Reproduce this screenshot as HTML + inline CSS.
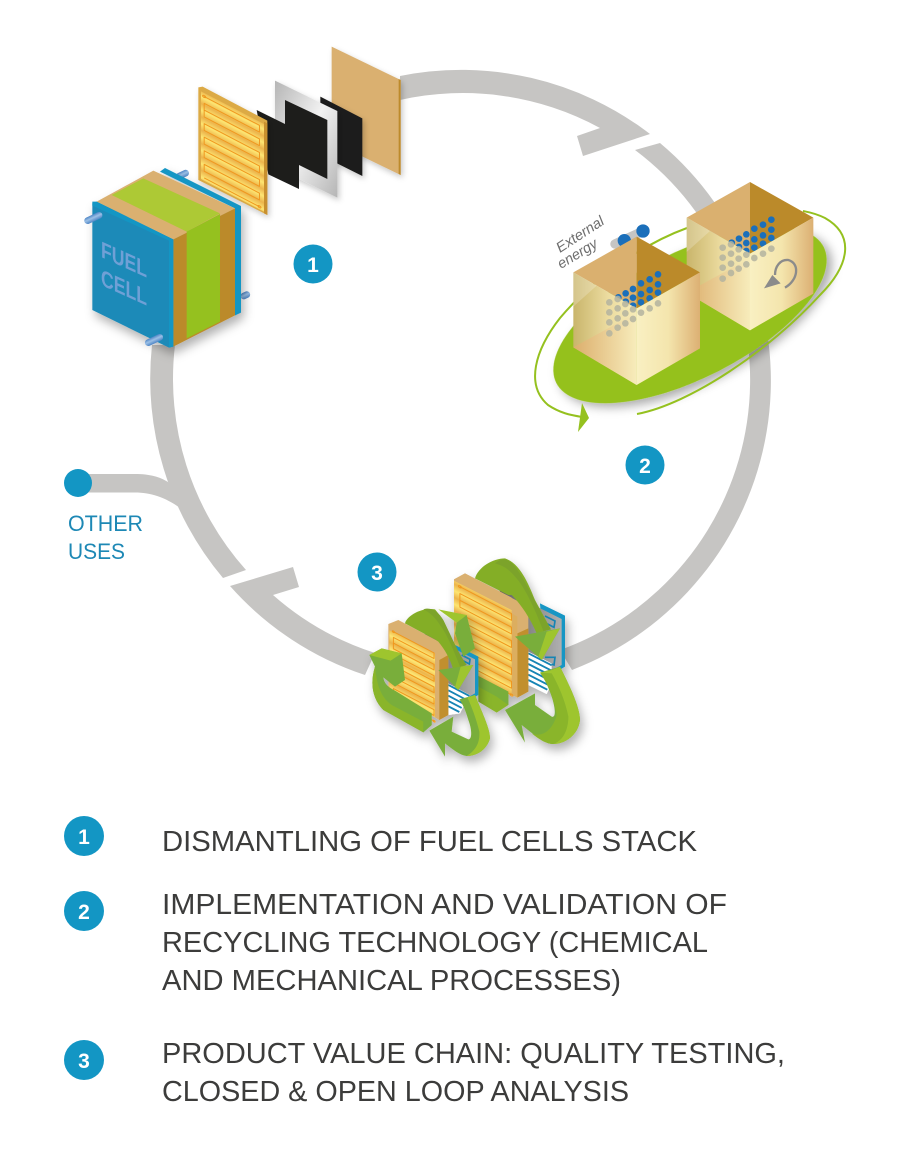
<!DOCTYPE html>
<html lang="en">
<head>
<meta charset="utf-8">
<title>Fuel cell recycling cycle</title>
<style>
html,body{margin:0;padding:0;background:#fff;width:897px;height:1176px;overflow:hidden}
svg{display:block}
text{font-family:"Liberation Sans",sans-serif}
.t{font-size:28.5px;fill:#3c3c3b}
.n{font-size:21px;font-weight:bold;fill:#fff;text-anchor:middle}
.o{font-size:22px;fill:#1d88b5}
</style>
</head>
<body>
<svg width="897" height="1176" viewBox="0 0 897 1176" xmlns="http://www.w3.org/2000/svg">
<defs>
<filter id="sh" x="-30%" y="-30%" width="160%" height="170%"><feDropShadow dx="3" dy="6" stdDeviation="5" flood-color="#000" flood-opacity=".33"/></filter>
<filter id="shz" x="-30%" y="-30%" width="160%" height="170%"><feDropShadow dx="9" dy="18" stdDeviation="15" flood-color="#000" flood-opacity=".3"/></filter>
<filter id="sh2z" x="-30%" y="-30%" width="160%" height="170%"><feDropShadow dx="6" dy="9" stdDeviation="9" flood-color="#000" flood-opacity=".22"/></filter>
<linearGradient id="gold" gradientUnits="userSpaceOnUse" x1="0" y1="0" x2="-16.400" y2="31.500" spreadMethod="repeat"><stop offset="0" stop-color="#ecb44c"/><stop offset=".5" stop-color="#fde572"/><stop offset="1" stop-color="#ecb44c"/></linearGradient>
<linearGradient id="fUp" x1="0" y1="0" x2="1" y2="0"><stop offset="0" stop-color="#c9b56b"/><stop offset=".55" stop-color="#ecdca0"/><stop offset="1" stop-color="#f7ecb8"/></linearGradient>
<linearGradient id="fLow" x1="0" y1="0" x2="1" y2="0"><stop offset="0" stop-color="#dcae6c"/><stop offset="1" stop-color="#f7ecbb"/></linearGradient>
<linearGradient id="fR" x1="0" y1="0" x2="1" y2="0"><stop offset="0" stop-color="#f9f0c2"/><stop offset=".5" stop-color="#f4e5ad"/><stop offset="1" stop-color="#dcb073"/></linearGradient>
<linearGradient id="frame" x1="0" y1="0" x2="1" y2="1"><stop offset="0" stop-color="#b5b5b5"/><stop offset=".5" stop-color="#f2f2f2"/><stop offset="1" stop-color="#b5b5b5"/></linearGradient>
<linearGradient id="gp" x1="0" y1="0" x2="1" y2="0"><stop offset="0" stop-color="#5f5f5f"/><stop offset="1" stop-color="#b0b0b0"/></linearGradient>
<linearGradient id="pin" x1="0" y1="0" x2="0" y2="1"><stop offset="0" stop-color="#4f86c6"/><stop offset=".45" stop-color="#9cc0e6"/><stop offset="1" stop-color="#4f86c6"/></linearGradient>
<g id="box">
<polygon points="160,457 350,350 350,565" fill="#dab06f"/>
<polygon points="350,350 540,457 350,565" fill="#bb8a2a"/>
<g fill="#1b6fba">
<circle cx="295" cy="532" r="10"/><circle cx="317" cy="520" r="10"/><circle cx="339" cy="507" r="10"/><circle cx="363" cy="490" r="10"/><circle cx="389" cy="478" r="10"/><circle cx="414" cy="463" r="10"/>
<circle cx="317" cy="545" r="10"/><circle cx="339" cy="533" r="10"/><circle cx="363" cy="522" r="10"/><circle cx="389" cy="510" r="10"/><circle cx="414" cy="493" r="10"/>
<circle cx="339" cy="557" r="10"/><circle cx="363" cy="547" r="10"/><circle cx="389" cy="535" r="10"/><circle cx="414" cy="518" r="10"/>
</g>
<polygon points="160,457 350,565 350,795 160,682" fill="url(#fUp)"/>
<polygon points="160,682 350,578 350,795" fill="url(#fLow)"/>
<polygon points="350,565 540,457 540,685 350,795" fill="url(#fR)"/>
<polygon points="160,457 230,497 160,560" fill="#fff" opacity=".22"/>
<g fill="#b4b4a0" opacity=".85">
<circle cx="268" cy="547" r="10"/><circle cx="268" cy="577" r="10"/><circle cx="268" cy="607" r="10"/><circle cx="268" cy="640" r="10"/>
<circle cx="293" cy="537" r="10"/><circle cx="293" cy="565" r="10"/><circle cx="293" cy="595" r="10"/><circle cx="293" cy="623" r="10"/>
<circle cx="316" cy="552" r="10"/><circle cx="316" cy="580" r="10"/><circle cx="316" cy="610" r="10"/>
<circle cx="339" cy="568" r="10"/><circle cx="339" cy="597" r="10"/><circle cx="363" cy="578" r="10"/><circle cx="389" cy="565" r="10"/><circle cx="414" cy="550" r="10"/>
</g>
</g>
<g id="serp" fill="none" stroke="#f0981f" stroke-width="1" stroke-linejoin="round">
<path vector-effect="non-scaling-stroke" d="M4,6 L57,6 V17 H4 V28 H57 V39 H4 V28 M4,50 H57 V61 H4 Z M4,72 H57 V83 H4 Z M4,94 H57 V105 H4 Z M4,116 H57 V127 H4 Z M4,138 H57"/>
<circle vector-effect="non-scaling-stroke" cx="4" cy="6" r="1.500"/>
<circle vector-effect="non-scaling-stroke" cx="57" cy="138" r="1.500"/>
</g>
</defs>

<!-- ring -->
<g fill="#c6c5c3">
<path d="M400,76 A310,310 0 0 1 650,134 L583,156 L577,136 L600,128 A287,287 0 0 0 400,100 Z"/>
<path d="M635,150 L660,143 A310,310 0 0 1 572,670 L560,650 A287,287 0 0 0 635,150 Z"/>
<path d="M152,345 A310,310 0 0 0 223,578 L246,570 A287,287 0 0 1 175,345 Z"/>
<path d="M230,586 L293,567 L299,587 L273,595 A287,287 0 0 0 375,653 L365,675 A310,310 0 0 1 230,586 Z"/>
<path d="M78,474 L135,474 C150,474 160,477 168,482 L175,490 L192,530 L180,508 C165,497 150,492.500 135,492.500 L78,492.500 Z"/>
</g>
<circle cx="78" cy="483" r="14" fill="#1396c4"/>
<text class="o" x="68" y="531" textLength="75" lengthAdjust="spacingAndGlyphs">OTHER</text>
<text class="o" x="68" y="559" textLength="57" lengthAdjust="spacingAndGlyphs">USES</text>

<!-- exploded layers -->
<g transform="translate(60,30) scale(.33333)">
<polygon points="815,50 1022,150 1022,435 815,335" fill="#dab06f" filter="url(#sh2z)"/>
<polygon points="1016,147 1022,150 1022,435 1016,432" fill="#bd8a2b"/>
<polygon points="781,200 907,265 907,438 781,375" fill="#1d1d1b" filter="url(#sh2z)"/>
<polygon points="645,152 832,243 832,503 645,412" fill="url(#frame)" filter="url(#sh2z)"/>
<polygon points="590,240 675,282 675,210 802,270 802,447 717,405 717,477 625,433" fill="#1d1d1b"/>
<polygon points="415,172 428,170 622,272 622,555 415,450" fill="#dcaa45" filter="url(#sh2z)"/>
<polygon points="423,184 612,282 612,545 423,447" fill="url(#gold)"/>
<polygon points="612,275 622,280 622,555 612,550" fill="#c8902f"/>
<g transform="matrix(3.130,1.630,0,1.850,420,182)"><use href="#serp"/></g>
</g>

<!-- fuel cell -->
<g transform="translate(60,30) scale(.33333)">
<g fill="url(#pin)">
<rect x="346" y="424" width="42" height="20" rx="10" transform="rotate(-25 367 434)"/>
<rect x="541" y="786" width="30" height="20" rx="10" transform="rotate(-25 556 796)"/>
</g>
<g filter="url(#shz)">
<polygon points="300,425 315,414 543,528 543,845 525,856 525,535" fill="#1396c4"/>
<polygon points="97,520 110,515 340,628 340,950 327,953 97,840" fill="#1a8ab8"/>
<polygon points="110,515 280,422 525,535 340,628" fill="#dab06f"/>
<polygon points="340,628 525,535 525,856 340,950" fill="#bb8a2a"/>
</g>
<polygon points="155,495 250,445 480,550 380,605" fill="#adc935"/>
<polygon points="380,605 480,552 480,875 380,925" fill="#95c11f"/>
<polygon points="525,532 543,528 543,848 525,856" fill="#1396c4"/>
<polygon points="97,515 110,515 340,628 340,950 327,953 327,632 97,527" fill="#1396c4"/>
<g fill="url(#pin)">
<rect x="71" y="554" width="58" height="20" rx="10" transform="rotate(-25 100 564)"/>
<rect x="253" y="920" width="58" height="20" rx="10" transform="rotate(-25 282 930)"/>
</g>
</g>
<text transform="matrix(1,.45,0,1,101,257)" font-size="23" font-weight="bold" fill="#6fa0d6" textLength="46" lengthAdjust="spacingAndGlyphs">FUEL</text>
<text transform="matrix(1,.45,0,1,101,285)" font-size="23" font-weight="bold" fill="#6fa0d6" textLength="46" lengthAdjust="spacingAndGlyphs">CELL</text>

<!-- green disk and boxes -->
<ellipse cx="690" cy="315" rx="150" ry="63" transform="rotate(-27 690 315)" fill="#95c11f" filter="url(#sh)"/>
<g fill="none" stroke="#95c11f" stroke-width="2">
<path d="M637,414 C690,404 770,350 820,295 C850,265 855,235 825,218 C815,213 808,212 803,211"/>
<path d="M687,228 C640,245 590,282 560,318 C535,350 525,385 548,405 C560,413 570,415 582,417"/>
</g>
<polygon points="582,403 589,418 578,432" fill="#95c11f"/>

<g transform="translate(520,120) scale(.33333)">
<g transform="translate(340,-164)"><use href="#box"/></g>
<path d="M795,503 C835,480 840,430 805,420 C780,418 765,440 765,465" fill="none" stroke="#8b8b8b" stroke-width="7"/>
<polygon points="732,505 757,465 782,490" fill="#8b8b8b"/>
<line x1="285" y1="372" x2="370" y2="333" stroke="#c6c5c3" stroke-width="28" stroke-linecap="round"/>
<circle cx="313" cy="362" r="20" fill="#1b6fba"/><circle cx="369" cy="333" r="20" fill="#1b6fba"/>
<use href="#box"/>
</g>
<g fill="#6e6e6e" font-size="14.500" font-style="italic">
<text transform="translate(560,253) rotate(-33)" textLength="54" lengthAdjust="spacingAndGlyphs">External</text>
<text transform="translate(561,269) rotate(-31)" textLength="44" lengthAdjust="spacingAndGlyphs">energy</text>
</g>

<!-- recycling: right stack -->
<g transform="translate(440,550) scale(.33333)">
<g filter="url(#shz)">
<polygon points="170,105 180,100 210,118 205,130" fill="#1396c4"/>
<polygon points="300,160 375,197 375,350 315,385" fill="#1396c4"/>
<polygon points="175,112 365,207 365,345 265,400 230,250" fill="url(#gp)"/>
<path d="M315,198 L345,213 L342,232 L315,218" fill="none" stroke="#1584b4" stroke-width="5"/>
<path d="M315,322 L345,322 L342,345 L315,335" fill="none" stroke="#1584b4" stroke-width="5"/>
<polygon points="265,305 335,340 335,400 320,432 265,405" fill="#fff"/>
<g stroke="#1584b4" stroke-width="5.500">
<line x1="265" y1="310" x2="335" y2="346"/><line x1="265" y1="326" x2="335" y2="362"/><line x1="265" y1="342" x2="335" y2="378"/><line x1="265" y1="358" x2="335" y2="394"/><line x1="265" y1="374" x2="327" y2="406"/><line x1="265" y1="390" x2="322" y2="419"/>
</g>
<polygon points="42,88 75,70 265,170 265,425 232,443 42,345" fill="#dab06f"/>
<polygon points="232,250 265,235 265,425 232,443" fill="#c18f2d"/>
<polygon points="215,190 232,200 232,443 215,434" fill="#dcae5e"/>
<polygon points="42,92 215,180 215,434 42,345" fill="url(#gold)"/>
<polygon points="42,88 75,70 215,143 215,180 42,92" fill="#dab06f"/>
<g transform="matrix(2.920,1.520,0,1.850,48,93)"><use href="#serp"/></g>
<polygon points="115,378 205,425 205,465 170,488 115,455" fill="#8ab52b"/>
<polygon points="115,378 205,425 205,465 170,440 115,410" fill="#79ae3b"/>
<path d="M105,85 C115,50 160,25 195,25 C240,40 265,100 285,150 L333,238 L290,250 C270,205 245,165 215,135 L205,135 Z" fill="#84ae28"/>
<path d="M165,40 C185,22 205,25 225,50 C260,95 290,170 333,238 L310,243 C290,190 255,110 225,80 C205,55 185,45 165,40 Z" fill="#7ba32c"/>
<polygon points="225,260 360,235 305,330" fill="#79ae3b"/>
<polygon points="320,245 360,235 305,330 295,320" fill="#9ec52d"/>
<path d="M300,368 L360,350 C385,400 420,470 420,510 C415,555 375,582 340,582 C320,582 295,565 245,525 L255,578 L195,480 L285,430 L285,465 L335,500 C350,505 345,470 335,440 C325,410 315,390 300,368 Z" fill="#79ae3b"/>
<path d="M300,368 L335,370 C355,405 375,450 385,500 C385,530 375,570 340,582 C320,582 300,570 275,550 C310,565 340,535 350,495 C345,460 325,400 300,368 Z" fill="#8ab52b"/>
<path d="M300,368 L332,361 L360,350 C385,400 420,470 420,510 C415,555 375,582 340,582 C375,570 385,530 385,500 C375,450 355,405 335,370 Z" fill="#9ec52d"/>
</g>
</g>

<!-- recycling: left stack -->
<g transform="translate(360,600) scale(.33333)">
<g filter="url(#shz)">
<polygon points="190,90 205,95 355,170 355,285 270,330" fill="#1396c4"/>
<polygon points="195,100 345,178 345,280 265,325 235,200" fill="url(#gp)"/>
<path d="M305,165 L330,178 L328,192 L305,180" fill="none" stroke="#1584b4" stroke-width="5"/>
<polygon points="265,250 330,285 320,300 300,340 265,345" fill="#fff"/>
<g stroke="#1584b4" stroke-width="5.500">
<line x1="265" y1="255" x2="328" y2="288"/><line x1="265" y1="271" x2="320" y2="300"/><line x1="265" y1="287" x2="312" y2="312"/><line x1="265" y1="303" x2="305" y2="324"/><line x1="265" y1="319" x2="298" y2="336"/>
</g>
<polygon points="85,72 115,60 265,140 265,345 238,360 85,270" fill="#dab06f"/>
<polygon points="238,180 265,165 265,345 238,360" fill="#c18f2d"/>
<polygon points="88,90 225,160 225,352 88,280" fill="url(#gold)"/>
<g transform="matrix(2.300,1.200,0,1.550,91,81)"><use href="#serp"/></g>
<polygon points="235,28 320,45 290,68" fill="#9ec52d"/>
<polygon points="290,68 320,45 345,145 310,170 285,100" fill="#79ae3b"/>
<path d="M135,70 C140,50 180,22 225,28 C250,55 275,115 300,165 L320,195 L280,210 C270,175 255,150 235,125 L225,118 Z" fill="#84ae28"/>
<path d="M190,28 C215,20 235,35 250,60 C270,100 295,160 320,195 L300,200 C285,160 260,100 240,75 C225,50 205,35 190,28 Z" fill="#7ba32c"/>
<polygon points="235,210 340,195 295,270" fill="#79ae3b"/>
<polygon points="302,200 340,195 295,270 285,262" fill="#9ec52d"/>
<path d="M28,165 L65,145 L125,160 L135,240 L105,260 L70,232 C72,250 85,262 105,272 L215,340 L215,375 L190,397 L70,330 C40,300 28,255 45,200 Z" fill="#79ae3b"/>
<polygon points="28,165 65,145 125,160 92,182" fill="#9ec52d"/>
<path d="M45,200 C28,255 40,300 70,330 L190,397 L190,365 L95,315 C60,290 50,250 45,200 Z" fill="#8ab52b"/>
<polygon points="190,365 215,340 215,375 190,397" fill="#79ae3b"/>
<path d="M298,298 L345,285 C365,335 390,385 390,415 C380,450 350,468 320,468 C300,465 280,450 255,430 L255,470 L208,392 L280,350 L275,395 L325,418 C338,418 335,385 325,360 C318,335 310,315 298,298 Z" fill="#79ae3b"/>
<path d="M322,292 L345,285 C365,335 390,385 390,415 C380,450 350,468 320,468 C350,450 360,425 358,395 C350,360 335,320 322,292 Z" fill="#9ec52d"/>
</g>
</g>

<!-- numbered badges -->
<circle cx="313" cy="264" r="19.500" fill="#1396c4"/><text class="n" x="313" y="272">1</text>
<circle cx="645" cy="465" r="19.500" fill="#1396c4"/><text class="n" x="645" y="473">2</text>
<circle cx="377" cy="572" r="19.500" fill="#1396c4"/><text class="n" x="377" y="580">3</text>

<circle cx="84" cy="836" r="20" fill="#1396c4"/><text class="n" x="84" y="844">1</text>
<circle cx="84" cy="911" r="20" fill="#1396c4"/><text class="n" x="84" y="919">2</text>
<circle cx="84" cy="1060" r="20" fill="#1396c4"/><text class="n" x="84" y="1068">3</text>

<text class="t" x="162" y="851" textLength="535" lengthAdjust="spacingAndGlyphs">DISMANTLING OF FUEL CELLS STACK</text>
<text class="t" x="162" y="914" textLength="565" lengthAdjust="spacingAndGlyphs">IMPLEMENTATION AND VALIDATION OF</text>
<text class="t" x="162" y="952" textLength="546" lengthAdjust="spacingAndGlyphs">RECYCLING TECHNOLOGY (CHEMICAL</text>
<text class="t" x="162" y="990" textLength="459" lengthAdjust="spacingAndGlyphs">AND MECHANICAL PROCESSES)</text>
<text class="t" x="162" y="1063" textLength="623" lengthAdjust="spacingAndGlyphs">PRODUCT VALUE CHAIN: QUALITY TESTING,</text>
<text class="t" x="162" y="1101" textLength="467" lengthAdjust="spacingAndGlyphs">CLOSED &amp; OPEN LOOP ANALYSIS</text>
</svg>
</body>
</html>
